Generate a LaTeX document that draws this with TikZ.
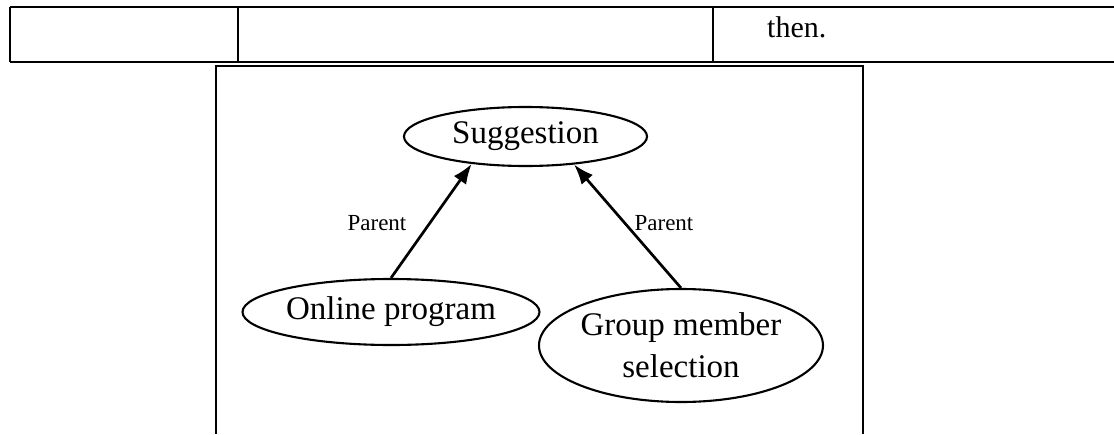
\documentclass[tikz,border=0pt]{standalone}
\usepackage{fontspec}
\setmainfont{Liberation Serif}
\usetikzlibrary{arrows.meta,shapes.geometric}
\tikzset{
    concept/.style={draw, ellipse, line width=2.1pt, inner sep=0pt,
        font=\fontsize{33}{42}\selectfont, align=center},
    rolelabel/.style={font=\fontsize{23}{28}\selectfont, inner sep=0pt}
}
\begin{document}
\begin{tikzpicture}[x=1pt, y=-1pt]
    \useasboundingbox (0,0) rectangle (1114,434);
    % Tabellenzeile oben
    \draw[line width=2.2pt] (10,7) -- (1114,7) (10,62) -- (1114,62);
    \foreach \x in {10,238,713}
        \draw[line width=2pt] (\x,7) -- (\x,62);
    \node[anchor=base west, font=\fontsize{30}{36}\selectfont, inner sep=0pt] (then) at (767,37) {then.};

    % Rahmen des Diagramms
    \draw[line width=1.9pt] (216,434) |- (863,66) -- (863,434);

    % Begriffe
    \node[concept, minimum width=243pt, minimum height=59pt] (sugg) at (525.5,136.5) {Suggestion};
    \node[concept, minimum width=297pt, minimum height=66pt] (online) at (391,312) {Online program};
    \node[concept, minimum width=284pt, minimum height=113pt] (group) at (681,345.5) {Group member\\selection};

    % Beziehungen
    \draw[->, >={Latex[length=20pt,width=15pt]}, line width=2.7pt] (online.north) -- (sugg.207);
    \draw[->, >={Latex[length=20pt,width=15pt]}, line width=2.7pt] (group.north) -- (sugg.330);
    \node[rolelabel] (lparent) at (377,223) {Parent};
    \node[rolelabel] (rparent) at (664,223) {Parent};
\end{tikzpicture}
\end{document}
